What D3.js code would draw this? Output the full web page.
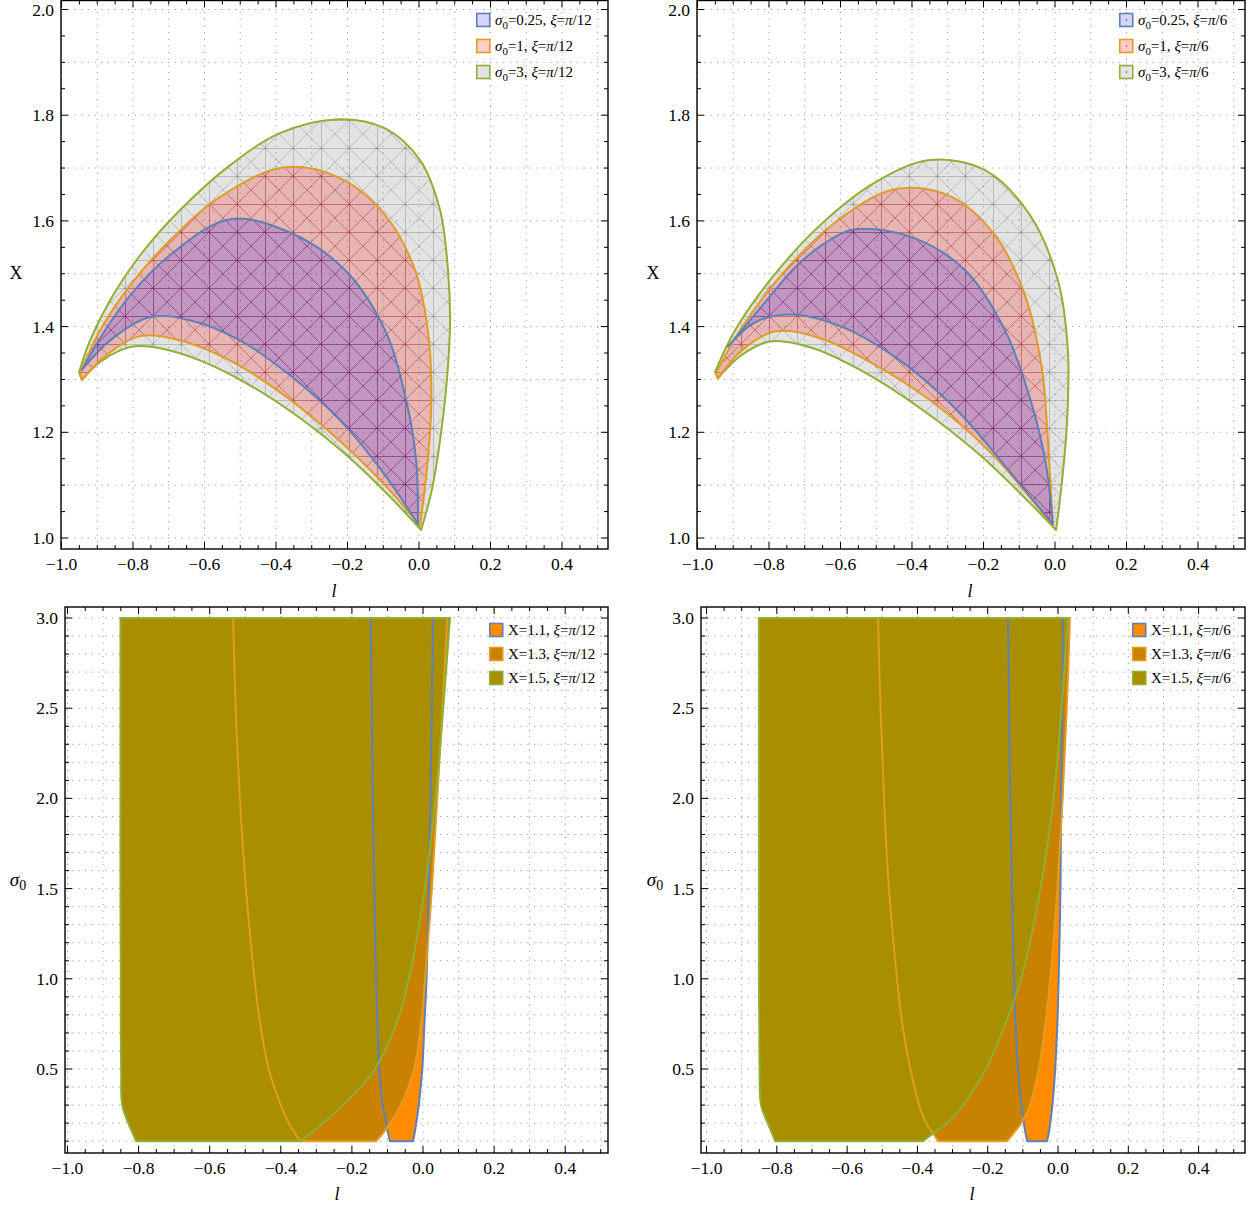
<!DOCTYPE html>
<html>
<head>
<meta charset="utf-8">
<script src="https://cdn.jsdelivr.net/npm/d3@7"></script>
<style>
  body { margin: 0; background: #fff; }
  svg text { font-family: "Liberation Serif", "Times New Roman", serif; fill: #000; }
</style>
</head>
<body>
<svg id="chart" width="1258" height="1206"></svg>
<script>
// ---------- data ----------
const lTicks = [-1.0, -0.8, -0.6, -0.4, -0.2, 0.0, 0.2, 0.4];
const xiTicks = [1.0, 1.2, 1.4, 1.6, 1.8, 2.0];
const sigmaTicks = [0.5, 1.0, 1.5, 2.0, 2.5, 3.0];

const sigmaValues = ["0.25", "1", "3"];
const xValues = ["1.1", "1.3", "1.5"];

// top left, xi = pi/12 : boundary branches [l, X]
const tlS025Up = [[-0.943,1.318],[-0.892,1.378],[-0.808,1.459],[-0.697,1.535],[-0.529,1.603],[-0.361,1.578],[-0.207,1.507],[-0.095,1.393],[-0.036,1.261],[-0.008,1.147],[-0.003,1.026]];
const tlS025Lo = [[-0.943,1.318],[-0.864,1.374],[-0.752,1.418],[-0.641,1.412],[-0.501,1.374],[-0.361,1.308],[-0.221,1.223],[-0.095,1.119],[-0.003,1.026]];
const tlS1Up = [[-0.948,1.312],[-0.892,1.393],[-0.808,1.478],[-0.697,1.563],[-0.557,1.645],[-0.380,1.701],[-0.221,1.681],[-0.095,1.611],[-0.011,1.507],[0.028,1.374],[0.034,1.242],[0.022,1.129],[0.003,1.023]];
const tlS1Lo = [[-0.943,1.299],[-0.878,1.344],[-0.780,1.382],[-0.669,1.374],[-0.529,1.336],[-0.389,1.276],[-0.249,1.200],[-0.109,1.110],[0.003,1.023]];
const tlS3Up = [[-0.951,1.314],[-0.920,1.374],[-0.864,1.450],[-0.780,1.535],[-0.669,1.620],[-0.529,1.705],[-0.389,1.766],[-0.232,1.792],[-0.095,1.775],[0.003,1.715],[0.059,1.620],[0.081,1.507],[0.087,1.412],[0.078,1.299],[0.059,1.185],[0.036,1.091],[0.006,1.015]];
const tlS3Lo = [[-0.943,1.299],[-0.892,1.333],[-0.836,1.355],[-0.794,1.363],[-0.724,1.359],[-0.613,1.336],[-0.473,1.289],[-0.333,1.227],[-0.193,1.151],[-0.081,1.078],[0.006,1.015]];

// top right, xi = pi/6
const trS025Up = [[-0.915,1.362],[-0.868,1.400],[-0.800,1.455],[-0.730,1.510],[-0.650,1.555],[-0.559,1.584],[-0.392,1.567],[-0.252,1.507],[-0.140,1.393],[-0.064,1.251],[-0.025,1.138],[-0.006,1.026]];
const trS025Lo = [[-0.915,1.362],[-0.839,1.408],[-0.741,1.423],[-0.601,1.401],[-0.434,1.336],[-0.266,1.236],[-0.126,1.125],[-0.006,1.026]];
const trS1Up = [[-0.948,1.312],[-0.881,1.393],[-0.769,1.495],[-0.615,1.597],[-0.448,1.660],[-0.294,1.647],[-0.168,1.573],[-0.084,1.459],[-0.036,1.318],[-0.020,1.185],[-0.006,1.023]];
const trS1Lo = [[-0.943,1.302],[-0.876,1.355],[-0.783,1.391],[-0.657,1.378],[-0.517,1.333],[-0.350,1.261],[-0.182,1.163],[-0.006,1.023]];
const trS3Up = [[-0.951,1.314],[-0.895,1.393],[-0.797,1.488],[-0.657,1.592],[-0.503,1.673],[-0.350,1.715],[-0.196,1.696],[-0.070,1.611],[0.008,1.488],[0.036,1.355],[0.034,1.223],[0.020,1.110],[0.003,1.015]];
const trS3Lo = [[-0.943,1.302],[-0.881,1.344],[-0.797,1.372],[-0.685,1.361],[-0.545,1.318],[-0.378,1.246],[-0.210,1.157],[-0.070,1.066],[0.003,1.015]];

// bottom row: l of region edges at these sigma0 values
const sigmaGrid = [0.1, 0.15, 0.2, 0.3, 0.5, 0.75, 1.0, 1.5, 2.0, 2.5, 3.0];
// xi = pi/12
const blX11Left  = [-0.093,-0.099,-0.104,-0.113,-0.123,-0.128,-0.132,-0.137,-0.141,-0.144,-0.147];
const blX11Right = [-0.028,-0.023,-0.019,-0.012,-0.002,0.004,0.010,0.016,0.021,0.025,0.028];
const blX13Left  = [-0.346,-0.362,-0.378,-0.400,-0.434,-0.458,-0.474,-0.498,-0.515,-0.527,-0.534];
const blX13Right = [-0.132,-0.110,-0.093,-0.063,-0.025,-0.006,0.006,0.025,0.040,0.055,0.068];
const blX15Left  = [-0.807,-0.818,-0.829,-0.846,-0.849,-0.850,-0.850,-0.851,-0.851,-0.851,-0.851];
const blX15Right = [-0.346,-0.312,-0.281,-0.225,-0.135,-0.075,-0.040,0.005,0.035,0.057,0.076];
// xi = pi/6
const brX11Left  = [-0.088,-0.093,-0.097,-0.104,-0.114,-0.121,-0.125,-0.131,-0.136,-0.139,-0.142];
const brX11Right = [-0.031,-0.026,-0.022,-0.016,-0.008,-0.002,0.002,0.007,0.009,0.012,0.014];
const brX13Left  = [-0.341,-0.358,-0.375,-0.395,-0.420,-0.443,-0.458,-0.481,-0.495,-0.505,-0.512];
const brX13Right = [-0.145,-0.124,-0.105,-0.080,-0.055,-0.036,-0.022,-0.002,0.013,0.025,0.034];
const brX15Left  = [-0.805,-0.815,-0.826,-0.845,-0.849,-0.850,-0.851,-0.851,-0.851,-0.851,-0.851];
const brX15Right = [-0.384,-0.350,-0.315,-0.270,-0.205,-0.150,-0.105,-0.050,-0.013,0.010,0.028];

// ---------- styles ----------
const edgeCol = ["#5e81b5", "#e19c24", "#8fb032"];
const topFill = [["#0000ff", 0.17], ["#ff0000", 0.2], ["#808080", 0.22]];
const meshCol = ["rgba(100,30,150,0.28)", "rgba(190,20,20,0.3)", "rgba(70,70,70,0.3)"];
const botFill = ["#ff8c00", "#c88200", "#a88e00"];

const svg = d3.select("#chart");
const defs = svg.append("defs");
["meshB", "meshR", "meshG"].forEach((id, i) => {
  const p = defs.append("pattern").attr("id", id)
    .attr("patternUnits", "userSpaceOnUse")
    .attr("width", 28).attr("height", 28).attr("x", 13).attr("y", 8);
  p.append("path")
    .attr("d", "M0,0.5H28M0.5,0V28M0,0L28,28M28,0L0,28")
    .attr("stroke", meshCol[i]).attr("stroke-width", 0.9).attr("fill", "none");
});

const fmt = d3.format(".1f");
const smooth = (sx, sy) => d3.line().x(d => sx(d[0])).y(d => sy(d[1])).curve(d3.curveCatmullRom.alpha(0.5));

function grid(g, sx, sy, yGrid) {
  const [xa, xb] = sx.range(), [ya, yb] = sy.range();
  const inX = v => v >= sx.domain()[0] && v <= sx.domain()[1];
  const inY = v => v >= sy.domain()[0] && v <= sy.domain()[1];
  const gr = g.append("g").attr("stroke", "#9a9a9a").attr("stroke-width", 1).attr("stroke-dasharray", "1.2,5.5");
  d3.range(-10, 6).map(i => i / 10).filter(inX).forEach(v =>
    gr.append("line").attr("x1", sx(v)).attr("x2", sx(v)).attr("y1", ya).attr("y2", yb));
  yGrid.filter(inY).forEach(v =>
    gr.append("line").attr("y1", sy(v)).attr("y2", sy(v)).attr("x1", xa).attr("x2", xb));
}

function axes(g, sx, sy, xt, yt, xMinor, yMinor, labelX) {
  const [xa, xb] = sx.range(), [ya, yb] = sy.range();
  const inX = v => v >= sx.domain()[0] && v <= sx.domain()[1];
  const inY = v => v >= sy.domain()[0] && v <= sy.domain()[1];
  const t = g.append("g").attr("stroke", "#000").attr("stroke-width", 1);
  xMinor.filter(inX).forEach(v => {
    const L = xt.some(m => Math.abs(m - v) < 1e-6) ? 7 : 4;
    t.append("line").attr("x1", sx(v)).attr("x2", sx(v)).attr("y1", ya).attr("y2", ya - L);
    t.append("line").attr("x1", sx(v)).attr("x2", sx(v)).attr("y1", yb).attr("y2", yb + L);
  });
  yMinor.filter(inY).forEach(v => {
    const L = yt.some(m => Math.abs(m - v) < 1e-6) ? 7 : 4;
    t.append("line").attr("y1", sy(v)).attr("y2", sy(v)).attr("x1", xa).attr("x2", xa + L);
    t.append("line").attr("y1", sy(v)).attr("y2", sy(v)).attr("x1", xb).attr("x2", xb - L);
  });
  g.append("rect").attr("x", xa).attr("y", yb).attr("width", xb - xa).attr("height", ya - yb)
    .attr("fill", "none").attr("stroke", "#000").attr("stroke-width", 1.4);
  xt.forEach(v => g.append("text").attr("x", sx(v)).attr("y", ya + 21)
    .attr("text-anchor", "middle").attr("font-size", 17.5).text(fmt(v)));
  yt.forEach(v => g.append("text").attr("x", xa - 7).attr("y", sy(v) + 6)
    .attr("text-anchor", "end").attr("font-size", 17.5).text(fmt(v)));
  g.append("text").attr("x", labelX[0]).attr("y", labelX[1]).attr("text-anchor", "middle")
    .attr("font-size", 18).attr("font-style", "italic").text("l");
}

function legendText(t, parts) {
  parts.forEach(p => {
    const s = t.append("tspan").text(p[0]);
    if (p[1] === "i") s.attr("font-style", "italic");
    if (p[1] === "sub") s.attr("font-size", 11).attr("dy", 4);
    if (p[1] === "up") s.attr("dy", -4);
  });
}

function topPanel(cfg) {
  const g = svg.append("g");
  const sx = d3.scaleLinear().domain(cfg.xd).range(cfg.xr);
  const sy = d3.scaleLinear().domain([0.9792, 2.017]).range([549, 0.5]);
  grid(g, sx, sy, d3.range(10, 21).map(i => i / 10));
  const L = smooth(sx, sy);
  const crescent = (up, lo) => L(up) + L(lo.slice().reverse()).replace(/^M/, "L") + "Z";
  const order = [2, 1, 0];
  const pats = ["meshB", "meshR", "meshG"];
  order.forEach(i => {
    const d = crescent(cfg.regions[i][0], cfg.regions[i][1]);
    g.append("path").attr("d", d).attr("fill", topFill[i][0]).attr("fill-opacity", topFill[i][1]);
    g.append("path").attr("d", d).attr("fill", `url(#${pats[i]})`);
  });
  order.forEach(i => {
    g.append("path").attr("d", crescent(cfg.regions[i][0], cfg.regions[i][1]))
      .attr("fill", "none").attr("stroke", edgeCol[i]).attr("stroke-width", 2).attr("stroke-linejoin", "round");
  });
  axes(g, sx, sy, lTicks, xiTicks, d3.range(-20, 11).map(i => i / 20), d3.range(19, 42).map(i => i / 20), cfg.lLab);
  g.append("text").attr("x", cfg.yLab[0]).attr("y", cfg.yLab[1]).attr("text-anchor", "middle")
    .attr("font-size", 18).text("X");
  const lg = g.append("g");
  sigmaValues.forEach((s, i) => {
    const cy = cfg.leg[1] + i * 26;
    lg.append("rect").attr("x", cfg.leg[0] + 0.75).attr("y", cy - 6.5).attr("width", 13).attr("height", 13)
      .attr("fill", topFill[i][0]).attr("fill-opacity", topFill[i][1])
      .attr("stroke", edgeCol[i]).attr("stroke-width", 1.6);
    if (cfg.dot) lg.append("rect").attr("x", cfg.leg[0] + 6.8).attr("y", cy - 0.7).attr("width", 1.3).attr("height", 1.3).attr("fill", "#666");
    const t = lg.append("text").attr("x", cfg.leg[0] + 19).attr("y", cy + 5).attr("font-size", 15);
    legendText(t, [["σ", "i"], ["0", "sub"], ["=" + s + ", ", "up"], ["ξ", "i"], ["=", ""], ["π", "i"], ["/" + cfg.den, ""]]);
  });
}

function bottomPanel(cfg) {
  const g = svg.append("g");
  const sx = d3.scaleLinear().domain(cfg.xd).range(cfg.xr);
  const sy = d3.scaleLinear().domain([0.0344, 3.061]).range([1153, 607]);
  grid(g, sx, sy, d3.range(1, 31).map(i => i / 10));
  const L = d3.line().x(d => sx(d[1])).y(d => sy(d[0])).curve(d3.curveCatmullRom.alpha(0.5));
  const band = (left, right) => {
    const a = sigmaGrid.map((s, k) => [s, left[k]]);
    const b = sigmaGrid.map((s, k) => [s, right[k]]).reverse();
    return L(a) + L(b).replace(/^M/, "L") + "Z";
  };
  const paths = cfg.regions.map(r => band(r[0], r[1]));
  paths.forEach((d, i) => g.append("path").attr("d", d).attr("fill", botFill[i]));
  paths.forEach((d, i) => g.append("path").attr("d", d).attr("fill", "none")
    .attr("stroke", edgeCol[i]).attr("stroke-width", 2).attr("stroke-linejoin", "round"));
  axes(g, sx, sy, lTicks, sigmaTicks, d3.range(-20, 11).map(i => i / 20), d3.range(0, 31).map(i => i / 10), cfg.lLab);
  const yl = g.append("text").attr("x", cfg.yLab[0]).attr("y", cfg.yLab[1]).attr("text-anchor", "middle").attr("font-size", 19);
  yl.append("tspan").attr("font-style", "italic").text("σ");
  yl.append("tspan").attr("font-size", 14).attr("dy", 4).text("0");
  const lg = g.append("g");
  xValues.forEach((s, i) => {
    const cy = cfg.leg[1] + i * 24;
    lg.append("rect").attr("x", cfg.leg[0] + 0.75).attr("y", cy - 6.5).attr("width", 13).attr("height", 13)
      .attr("fill", botFill[i]).attr("stroke", edgeCol[i]).attr("stroke-width", 1.6);
    const t = lg.append("text").attr("x", cfg.leg[0] + 19).attr("y", cy + 5).attr("font-size", 15);
    legendText(t, [["X=" + s + ", ", ""], ["ξ", "i"], ["=", ""], ["π", "i"], ["/" + cfg.den, ""]]);
  });
}

topPanel({ xd: [-1.0014, 0.5287], xr: [61, 608], den: "12", leg: [476, 20], lLab: [334, 597], yLab: [16, 279], dot: false,
  regions: [[tlS025Up, tlS025Lo], [tlS1Up, tlS1Lo], [tlS3Up, tlS3Lo]] });
topPanel({ xd: [-1.0014, 0.5315], xr: [697, 1245], den: "6", leg: [1119, 20], lLab: [970, 597], yLab: [653, 279], dot: true,
  regions: [[trS025Up, trS025Lo], [trS1Up, trS1Lo], [trS3Up, trS3Lo]] });
bottomPanel({ xd: [-1.007, 0.5204], xr: [65, 608], den: "12", leg: [489, 630], lLab: [337, 1200], yLab: [18, 886],
  regions: [[blX11Left, blX11Right], [blX13Left, blX13Right], [blX15Left, blX15Right]] });
bottomPanel({ xd: [-1.0157, 0.532], xr: [701, 1245], den: "6", leg: [1132, 630], lLab: [972, 1200], yLab: [655, 886],
  regions: [[brX11Left, brX11Right], [brX13Left, brX13Right], [brX15Left, brX15Right]] });
</script>
</body>
</html>
